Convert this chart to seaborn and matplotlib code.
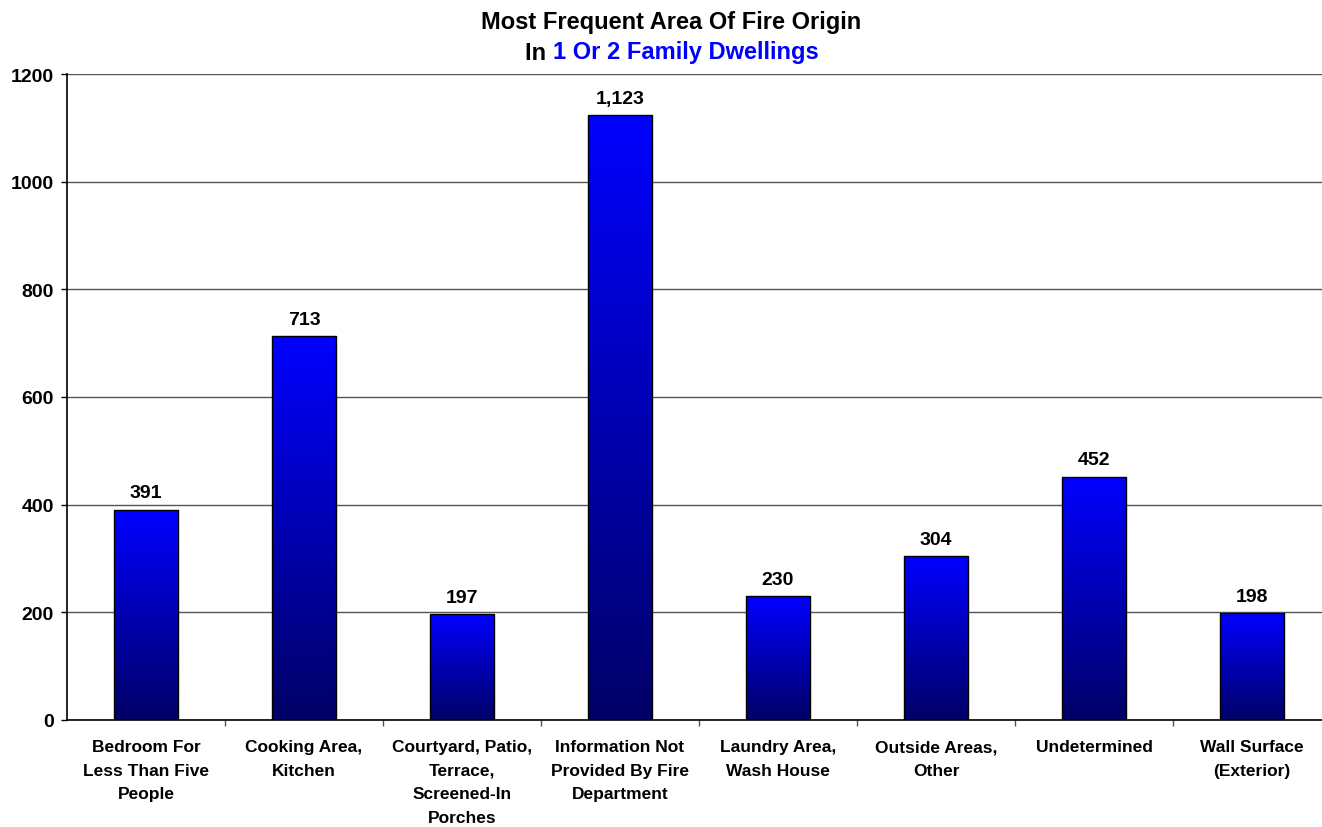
import numpy as np
import pandas as pd
import seaborn as sns
import matplotlib.pyplot as plt
from matplotlib.colors import LinearSegmentedColormap
from matplotlib.ticker import FixedLocator

# datos
categories = ["Bedroom For\nLess Than Five\nPeople",
              "Cooking Area,\nKitchen",
              "Courtyard, Patio,\nTerrace,\nScreened-In\nPorches",
              "Information Not\nProvided By Fire\nDepartment",
              "Laundry Area,\nWash House",
              "Outside Areas,\nOther",
              "Undetermined",
              "Wall Surface\n(Exterior)"]
counts = [391, 713, 197, 1123, 230, 304, 452, 198]
y_ticks = [0, 200, 400, 600, 800, 1000, 1200]

title_line1 = "Most Frequent Area Of Fire Origin"
title_pre = "In "
title_blue = "1 Or 2 Family Dwellings"

sns.set_theme(style="white")
plt.rcParams['font.family'] = ['Liberation Sans', 'DejaVu Sans']
plt.rcParams['text.color'] = 'black'
plt.rcParams['xtick.color'] = 'black'
plt.rcParams['ytick.color'] = 'black'

df = pd.DataFrame({'area': categories, 'fires': counts})

W, H = 1322, 828
fig = plt.figure(figsize=(W / 100, H / 100), dpi=100)
ax = fig.add_axes([67 / W, 1 - 721 / H, (1331 - 67) / W, (721 - 75) / H])

sns.barplot(data=df, x='area', y='fires', color='#0000ff', saturation=1,
            width=0.41, edgecolor='black', linewidth=1, ax=ax)

# degradado vertical en cada barra (azul arriba, marino abajo)
cmap = LinearSegmentedColormap.from_list('navy_blue', ['#000066', '#0000ff'])
grad = np.linspace(1, 0, 256).reshape(-1, 1)
for bar in ax.patches:
    x0, y0 = bar.get_x(), bar.get_y()
    w, h = bar.get_width(), bar.get_height()
    bar.set_facecolor('none')
    bar.set_zorder(3)
    im = ax.imshow(grad, cmap=cmap, aspect='auto', extent=[x0, x0 + w, y0, y0 + h],
                   zorder=2.5, interpolation='bicubic')
    im.set_clip_path(bar)

ax.set_xlim(-0.5, len(categories) - 0.5)
ax.set_ylim(0, 1200)
ax.yaxis.set_major_locator(FixedLocator(y_ticks))
ax.set_yticklabels([str(t) for t in y_ticks], fontsize=14, fontweight='bold', color='black')
ax.set_xticks(range(len(categories)))
ax.set_xticklabels(categories, fontsize=12.5, fontweight='bold', linespacing=1.71,
                   va='top', color='black')
ax.xaxis.set_minor_locator(FixedLocator(np.arange(0.5, len(categories), 1)))

ax.set_xlabel('')
ax.set_ylabel('')

ax.set_axisbelow(True)
ax.yaxis.grid(True, color='#555555', lw=1)

for s in ['top', 'right']:
    ax.spines[s].set_visible(False)
for s in ['left', 'bottom']:
    ax.spines[s].set_color('black')
    ax.spines[s].set_linewidth(1.2)

ax.tick_params(axis='y', which='major', left=True, length=4.3, width=1, color='black', pad=5)
ax.tick_params(axis='x', which='major', bottom=True, length=0, pad=14)
ax.tick_params(axis='x', which='minor', bottom=True, length=4, width=1, color='#555555')

ax.bar_label(ax.containers[0], labels=[f'{v:,}' for v in counts], padding=6,
             fontsize=14, fontweight='bold', color='black')

# titulo en dos lineas, la segunda con parte en azul
cx = 0.508
fs_title = 17
fig.text(cx, 1 - 22 / H, title_line1, ha='center', va='center', fontsize=fs_title, fontweight='bold')
probe = fig.text(cx, 1 - 53 / H, title_pre + title_blue, ha='center', va='center',
                 fontsize=fs_title, fontweight='bold')
fig.canvas.draw()
bb = probe.get_window_extent().transformed(fig.transFigure.inverted())
probe.remove()
fig.text(bb.x0, 1 - 53 / H, title_pre, ha='left', va='center', fontsize=fs_title, fontweight='bold')
fig.text(bb.x1, 1 - 53 / H, title_blue, ha='right', va='center', fontsize=fs_title,
         fontweight='bold', color='#0000ff')

plt.savefig('out.png', dpi=100)
